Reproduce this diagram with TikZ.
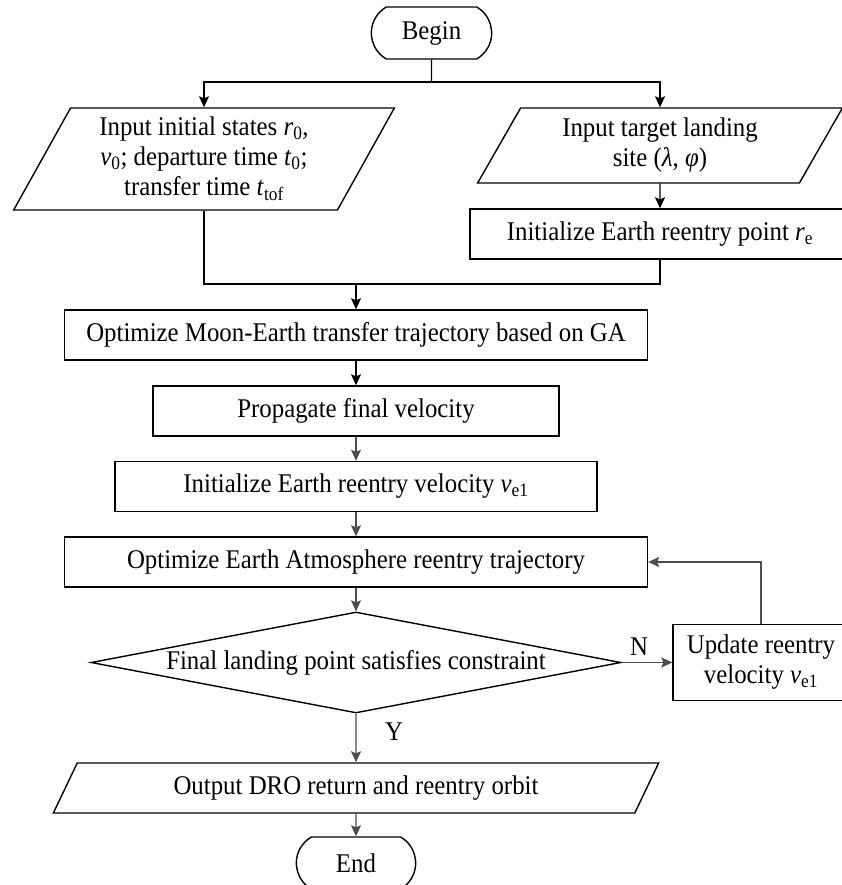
\documentclass[tikz,border=0pt]{standalone}
\usepackage{fontspec}
\setmainfont{Liberation Serif}[FakeStretch=0.92]
\usetikzlibrary{shapes.geometric,shapes.misc,arrows.meta}

\newcommand\low[1]{\textsubscript{#1}}

\begin{document}
\begin{tikzpicture}[x=1pt,y=-1pt,
  every node/.style={font=\fontsize{27}{30}\selectfont,align=center},
  term/.style={draw,line width=1.4pt,rounded rectangle,rounded rectangle arc length=120,minimum width=127pt,minimum height=52pt},
  proc/.style={draw,line width=1.4pt,rectangle,minimum height=50pt},
  io/.style={draw,line width=1.4pt,trapezium,trapezium left angle=63,trapezium right angle=117,trapezium stretches=true},
  test/.style={draw,line width=1.4pt,diamond,shape aspect=5.2,inner sep=0pt,minimum width=530pt,minimum height=101pt},
  link/.style={line width=1.2pt,-{Stealth[length=11pt,width=10pt,inset=2pt]}},
  glink/.style={link,black!70}]
  \useasboundingbox (0,0) rectangle (842,885);
  \node[term] (begin) at (431.5,33) {Begin};
  \node[io,minimum width=382pt,minimum height=102pt] (states) at (204,159)
    {Input initial states \textit{r}\low{0},\\ \textit{v}\low{0}; departure time \textit{t}\low{0};\\ transfer time \textit{t}\low{tof}};
  \node[io,minimum width=366pt,minimum height=75pt] (site) at (660,145.5)
    {Input target landing\\ site (\textit{λ}, \textit{φ})};
  \node[proc,minimum width=380pt] (point) at (660,234) {Initialize Earth reentry point \textit{r}\low{e}};
  \node[proc,minimum width=583pt] (transfer) at (356,335) {Optimize Moon-Earth transfer trajectory based on GA};
  \node[proc,minimum width=406pt] (propagate) at (356,411) {Propagate final velocity};
  \node[proc,minimum width=482pt] (velocity) at (356,486.5) {Initialize Earth reentry velocity \textit{v}\low{e1}};
  \node[proc,minimum width=583pt] (reentry) at (356,562) {Optimize Earth Atmosphere reentry trajectory};
  \node[test] (check) at (356,662.5) {Final landing point satisfies constraint};
  \node[proc,minimum width=176pt,minimum height=76pt] (update) at (761,662.5) {Update reentry\\ velocity \textit{v}\low{e1}};
  \node[io,minimum width=607pt,minimum height=50pt] (output) at (356,788) {Output DRO return and reentry orbit};
  \node[term,minimum width=126pt] (end) at (356,863) {End};
  \node (no) at (639,647) {N};
  \node (yes) at (394,732) {Y};

  \coordinate (fork) at (431.5,82);
  \coordinate (join) at (356,284);
  \draw[line width=1.2pt] (begin) -- (fork);
  \draw[link] (fork) -| (states);
  \draw[link] (fork) -| (site);
  \draw[link] (site) -- (point);
  \draw[line width=1.2pt] (states) |- (join) -| (point);
  \draw[link] (join) -- (transfer);
  \draw[link] (transfer) -- (propagate);
  \draw[glink] (propagate) -- (velocity);
  \draw[glink] (velocity) -- (reentry);
  \draw[glink] (reentry) -- (check);
  \draw[glink] (check) -- (update);
  \draw[glink] (update) |- (reentry);
  \draw[glink] (check) -- (output);
  \draw[glink] (output) -- (end);
\end{tikzpicture}
\end{document}
